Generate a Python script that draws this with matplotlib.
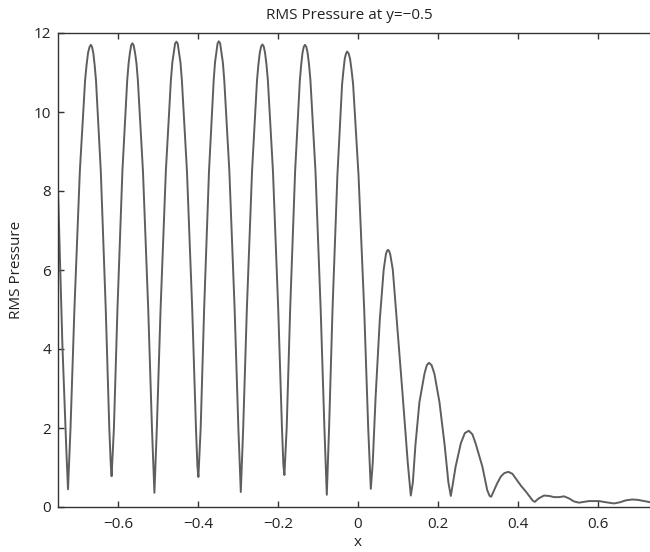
import numpy as np
import matplotlib.pyplot as plt

# points (x position, RMS pressure)
x_vals = [
    -0.75, -0.739, -0.729, -0.725,
    -0.7187, -0.709, -0.6954, -0.6823, -0.6785, -0.6748, -0.671, -0.668,
    -0.665, -0.6618, -0.6585, -0.655, -0.643, -0.6306, -0.6218, -0.618, -0.616,
    -0.6102, -0.6014, -0.589, -0.577, -0.5735, -0.5702, -0.567, -0.564,
    -0.561, -0.5574, -0.5538, -0.5503, -0.5376, -0.5244, -0.5151, -0.509,
    -0.5029, -0.4936, -0.4804, -0.4678, -0.4642, -0.4606, -0.4573, -0.454,
    -0.4507, -0.4474, -0.4438, -0.4403, -0.4276, -0.4144, -0.4051, -0.4015, -0.399,
    -0.3933, -0.3847, -0.3725, -0.3608, -0.3575, -0.3541, -0.351, -0.348,
    -0.3447, -0.3414, -0.3378, -0.3343, -0.3216, -0.3084, -0.2991, -0.293,
    -0.287, -0.2779, -0.2649, -0.2525, -0.249, -0.2455, -0.2422, -0.239,
    -0.2357, -0.2324, -0.2288, -0.2253, -0.2126, -0.1994, -0.1901, -0.1865, -0.184,
    -0.1783, -0.1696, -0.1572, -0.1454, -0.142, -0.1387, -0.1356, -0.1325,
    -0.1292, -0.126, -0.1224, -0.1189, -0.1063, -0.0933, -0.084, -0.078,
    -0.0723, -0.0637, -0.0515, -0.0398, -0.0364, -0.0331, -0.030, -0.027,
    -0.0234, -0.0199, -0.016, -0.0122, 0.0013, 0.0155, 0.0255, 0.032,
    0.0368, 0.044, 0.0544, 0.0642, 0.0698, 0.0724, 0.075,
    0.0778, 0.0805, 0.087, 0.097, 0.112, 0.1245, 0.132,
    0.1371, 0.1435, 0.1535, 0.1661, 0.172, 0.1775,
    0.184, 0.1911, 0.2037, 0.2167, 0.226, 0.232,
    0.2365, 0.244, 0.257, 0.267, 0.277, 0.286, 0.294, 0.303, 0.311,
    0.323, 0.329, 0.333, 0.34, 0.348, 0.357, 0.366, 0.376,
    0.386, 0.396, 0.408, 0.419, 0.428, 0.437, 0.442, 0.452,
    0.465, 0.478, 0.49, 0.503, 0.515, 0.527, 0.54, 0.5525, 0.565,
    0.5775, 0.59, 0.6025, 0.62, 0.64, 0.655, 0.67, 0.686, 0.70,
    0.715, 0.73, 0.75,
]
rms_vals = [
    8.03, 4.1, 1.4, 0.45,
    2.0, 5.0, 8.5, 10.8, 11.2, 11.5, 11.65, 11.70,
    11.65, 11.5, 11.2, 10.8, 8.5, 5.0, 2.0, 1.06, 0.78,
    2.0, 5.0, 8.5, 10.8, 11.23, 11.5, 11.69, 11.74,
    11.69, 11.5, 11.23, 10.8, 8.5, 5.0, 2.0, 0.36,
    2.0, 5.0, 8.5, 10.8, 11.25, 11.5, 11.73, 11.78,
    11.73, 11.5, 11.25, 10.8, 8.5, 5.0, 2.0, 1.04, 0.76,
    2.0, 5.0, 8.5, 10.8, 11.25, 11.5, 11.74, 11.79,
    11.74, 11.5, 11.25, 10.8, 8.5, 5.0, 2.0, 0.38,
    2.0, 5.0, 8.5, 10.8, 11.2, 11.5, 11.66, 11.71,
    11.66, 11.5, 11.2, 10.8, 8.5, 5.0, 2.0, 1.06, 0.81,
    2.0, 5.0, 8.5, 10.8, 11.2, 11.5, 11.65, 11.70,
    11.65, 11.5, 11.2, 10.8, 8.5, 5.0, 2.0, 0.31,
    2.0, 5.0, 8.4, 10.7, 11.05, 11.35, 11.48, 11.53,
    11.48, 11.35, 11.05, 10.7, 8.4, 5.0, 2.0, 0.46,
    1.11, 2.78, 4.73, 6.01, 6.40, 6.48, 6.51,
    6.48, 6.40, 6.01, 4.73, 2.78, 1.11, 0.29,
    0.62, 1.56, 2.65, 3.37, 3.59, 3.65,
    3.59, 3.37, 2.65, 1.56, 0.62, 0.28,
    0.55, 1.02, 1.61, 1.87, 1.93, 1.84, 1.61, 1.30, 1.02,
    0.43, 0.28, 0.26, 0.42, 0.60, 0.77, 0.86, 0.89,
    0.84, 0.70, 0.53, 0.40, 0.28, 0.16, 0.13, 0.22,
    0.29, 0.28, 0.25, 0.25, 0.27, 0.22, 0.14, 0.11, 0.13,
    0.15, 0.15, 0.15, 0.12, 0.09, 0.12, 0.17, 0.19, 0.18,
    0.15, 0.12, 0.10,
]
x_ticks = [-0.6, -0.4, -0.2, 0, 0.2, 0.4, 0.6]
x_tick_labels = ['\u22120.6', '\u22120.4', '\u22120.2', '0', '0.2', '0.4', '0.6']
y_ticks = [0, 2, 4, 6, 8, 10, 12]

plt.rcParams['font.family'] = ['Open Sans', 'DejaVu Sans']

fig = plt.figure(figsize=(6.5, 5.52), dpi=100)
# right side of the axes runs past the figure edge, as in the cropped original
ax = fig.add_axes([58 / 650, 45 / 552, 600 / 650, 474 / 552])

ax.plot(x_vals, rms_vals, color='#5e5e5e', lw=1.4)

ax.set_xlim(-0.75, 0.75)
ax.set_ylim(0, 12)
ax.set_xticks(x_ticks)
ax.set_yticks(y_ticks)
ax.set_xticklabels(x_tick_labels)

text_col = '#222222'
ax.tick_params(direction='in', length=4, width=1, colors='#333333',
               labelcolor=text_col, labelsize=11, top=True, right=True)
ax.tick_params(axis='x', pad=7)
ax.tick_params(axis='y', pad=5)
for s in ax.spines.values():
    s.set_color('#333333')
    s.set_linewidth(1.0)

ax.set_xlabel('x', fontsize=11, color=text_col, labelpad=2)
ax.set_ylabel('RMS Pressure', fontsize=11, color=text_col, labelpad=7)
ax.set_title('RMS Pressure at y=\u22120.5', fontsize=11, color=text_col,
             x=0.485, pad=10)

fig.savefig('out.png', dpi=100)
